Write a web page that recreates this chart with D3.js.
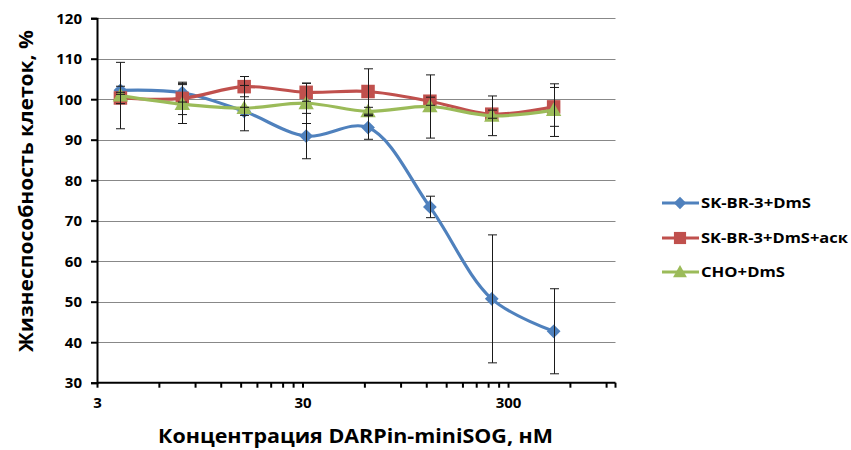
<!DOCTYPE html>
<html>
<head>
<meta charset="utf-8">
<script src="https://cdn.jsdelivr.net/npm/d3@7"></script>
<style>
  html, body { margin: 0; padding: 0; background: #fff; }
  svg text { font-family: "Open Sans", "DejaVu Sans", sans-serif; font-weight: bold; fill: #000; }
</style>
</head>
<body>
<svg id="chart" width="851" height="450"></svg>
<script>
// ---- data ----
const concentrations = [3.9, 7.8, 15.6, 31.25, 62.5, 125, 250, 500];
const seriesNames = ["SK-BR-3+DmS", "SK-BR-3+DmS+аск", "CHO+DmS"];
const skbrValues   = [102.2, 101.6, 97.0, 90.9, 93.0, 73.4, 50.7, 42.7];
const skbrErrors   = [1.0, 2.3, 1.0, 5.6, 2.9, 2.65, 15.8, 10.5];
const skbrAskValues = [100.3, 100.2, 103.1, 101.7, 101.9, 99.5, 96.3, 98.1];
const skbrAskErrors = [1.4, 4.0, 2.5, 2.2, 5.6, 1.0, 1.0, 4.8];
const choValues    = [100.9, 98.8, 97.8, 99.0, 97.0, 98.2, 95.9, 97.3];
const choErrors    = [8.2, 4.8, 5.6, 5.0, 1.0, 7.8, 4.9, 6.5];
const xTickLabels  = [3, 30, 300];
const yTickLabels  = [30, 40, 50, 60, 70, 80, 90, 100, 110, 120];
const xTitle = "Концентрация DARPin-miniSOG, нМ";
const yTitle = "Жизнеспособность клеток, %";

const colors = ["#4F81BD", "#C0504D", "#9BBB59"];
const shapes = ["diamond", "square", "triangle"];

const series = [
  { name: seriesNames[0], values: skbrValues, errors: skbrErrors },
  { name: seriesNames[1], values: skbrAskValues, errors: skbrAskErrors },
  { name: seriesNames[2], values: choValues, errors: choErrors }
];

const svg = d3.select("#chart");
const x = d3.scaleLog().domain([3, 1000]).range([97, 615.5]);
const y = d3.scaleLinear().domain([30, 120]).range([382.7, 18.2]);

// gridlines
svg.append("g").selectAll("line")
  .data(yTickLabels.filter(v => v > 30))
  .join("line")
  .attr("x1", 97).attr("x2", 615.5)
  .attr("y1", d => Math.round(y(d)) + 0.5).attr("y2", d => Math.round(y(d)) + 0.5)
  .attr("stroke", "#888888").attr("stroke-width", 1);

// y axis
const yAxis = svg.append("g").attr("transform", "translate(97,0)")
  .call(d3.axisLeft(y).tickValues(yTickLabels).tickSize(6).tickPadding(9));
yAxis.select(".domain").attr("stroke", "#000").attr("stroke-width", 2);
yAxis.selectAll(".tick line").attr("stroke", "#000").attr("stroke-width", 2);
yAxis.selectAll(".tick text").style("font-size", "15px").attr("dy", "0.35em");

// x axis: major labels + minor ticks (multiples of 3 within each decade)
const minorTicks = [];
[3, 30, 300].forEach(base => { for (let k = 2; k <= 9; k++) { const v = base * k; if (v <= 1000) minorTicks.push(v); } });
const xAxis = svg.append("g").attr("transform", "translate(0,382.7)")
  .call(d3.axisBottom(x).tickValues(xTickLabels.concat(minorTicks)).tickSize(5)
    .tickFormat(d => xTickLabels.includes(d) ? d : "").tickPadding(10));
xAxis.select(".domain").attr("stroke", "#000").attr("stroke-width", 2).attr("d", "M97,0H615.5");
xAxis.selectAll(".tick line").attr("stroke", "#000").attr("stroke-width", 2);
xAxis.selectAll(".tick text").style("font-size", "15px");
xAxis.append("line").attr("x1", 615.5).attr("x2", 615.5).attr("y1", 0).attr("y2", 5).attr("stroke", "#000").attr("stroke-width", 2);

// titles
svg.append("text").attr("x", 355.5).attr("y", 443).attr("text-anchor", "middle")
  .style("font-size", "20px").attr("textLength", 395).attr("lengthAdjust", "spacingAndGlyphs").text(xTitle);
svg.append("text").attr("transform", "translate(33,191) rotate(-90)").attr("text-anchor", "middle")
  .style("font-size", "20px").attr("textLength", 322).attr("lengthAdjust", "spacingAndGlyphs").text(yTitle);

// marker generator
function marker(sel, shape, color, s) {
  if (shape === "diamond") {
    sel.append("path").attr("d", `M0,${-s*0.55}L${s*0.55},0L0,${s*0.55}L${-s*0.55},0Z`).attr("fill", color);
  } else if (shape === "square") {
    sel.append("rect").attr("x", -s/2).attr("y", -s/2).attr("width", s).attr("height", s).attr("fill", color);
  } else {
    sel.append("path").attr("d", `M0,${-s*0.55}L${s*0.55},${s*0.42}L${-s*0.55},${s*0.42}Z`).attr("fill", color);
  }
}
const markerSizes = [12.5, 13.5, 14];

const line = d3.line().curve(d3.curveCatmullRom.alpha(0.5))
  .x((d, i) => x(concentrations[i])).y(d => y(d));

series.forEach((s, si) => {
  const g = svg.append("g");
  g.append("path").attr("d", line(s.values)).attr("fill", "none")
    .attr("stroke", colors[si]).attr("stroke-width", 3.2).attr("stroke-linejoin", "round");
  s.values.forEach((v, i) => {
    const m = g.append("g").attr("transform", `translate(${x(concentrations[i])},${y(v)})`);
    marker(m, shapes[si], colors[si], markerSizes[si]);
  });
});

// error bars on top
series.forEach((s, si) => {
  const g = svg.append("g");
  s.values.forEach((v, i) => {
    const cx = Math.round(x(concentrations[i])) + 0.5;
    const top = y(v + s.errors[i]), bot = y(v - s.errors[i]);
    g.append("line").attr("x1", cx).attr("x2", cx).attr("y1", top).attr("y2", bot).attr("stroke", "#1a1a1a").attr("stroke-width", 1);
    [top, bot].forEach(yy => g.append("line").attr("x1", cx - 4.5).attr("x2", cx + 4.5).attr("y1", yy).attr("y2", yy).attr("stroke", "#1a1a1a").attr("stroke-width", 1));
  });
});

// legend
const legendY = [203, 238, 272];
const legendTextLen = [110, 147, 84];
series.forEach((s, si) => {
  const g = svg.append("g").attr("transform", `translate(0,${legendY[si]})`);
  g.append("line").attr("x1", 662).attr("x2", 699).attr("y1", 0).attr("y2", 0).attr("stroke", colors[si]).attr("stroke-width", 3.2);
  const m = g.append("g").attr("transform", "translate(680,0)");
  marker(m, shapes[si], colors[si], markerSizes[si] * 0.9);
  g.append("text").attr("x", 701).attr("y", 0).attr("dy", "0.35em").style("font-size", "15px")
    .attr("textLength", legendTextLen[si]).attr("lengthAdjust", "spacingAndGlyphs").text(s.name);
});
</script>
</body>
</html>
